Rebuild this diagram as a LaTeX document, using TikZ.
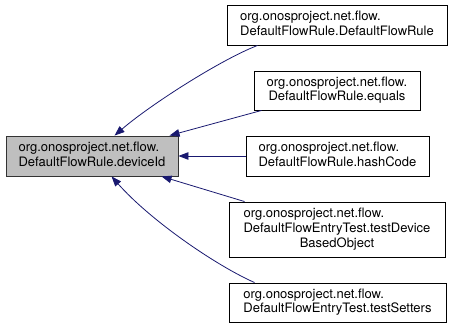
\documentclass[tikz,border=0pt]{standalone}
\usepackage{fontspec}
\setmainfont{TeX Gyre Heros}
\usetikzlibrary{arrows.meta}
\definecolor{edgeblue}{HTML}{191970}
\definecolor{focusgray}{HTML}{BFBFBF}
% two-or-more line label: leading lines flush left, last line centred
\newcommand{\fnlabel}[2]{\begin{tabular}{@{}c@{}}\multicolumn{1}{@{}l@{}}{#1}\\#2\end{tabular}}
\newcommand{\fnlabelthree}[3]{\begin{tabular}{@{}c@{}}\multicolumn{1}{@{}l@{}}{#1}\\\multicolumn{1}{@{}l@{}}{#2}\\#3\end{tabular}}
\begin{document}
\begin{tikzpicture}[x=1pt,y=-1pt,
  fn/.style={draw=black, line width=0.9pt, fill=white, rectangle, inner sep=0pt,
    font=\fontsize{13}{14.7}\selectfont, minimum height=40pt},
  focus/.style={fn, fill=focusgray, draw=black!80},
  caller/.style={draw=edgeblue, line width=0.8pt,
    arrows={Triangle[length=10pt,width=7.5pt]-}}
]
\useasboundingbox (0,0) rectangle (453,328);
\renewcommand{\arraystretch}{1}

\node[focus, minimum width=172pt] (L) at (92,156)
  {\fnlabel{org.onosproject.net.flow.}{DefaultFlowRule.deviceId}};

\node[fn, minimum width=220pt] (n1) at (337,25)
  {\fnlabel{org.onosproject.net.flow.}{DefaultFlowRule.DefaultFlowRule}};
\node[fn, minimum width=166pt, minimum height=39pt] (n2) at (337,90.5)
  {\fnlabel{org.onosproject.net.flow.}{DefaultFlowRule.equals}};
\node[fn, minimum width=183pt] (n3) at (337.5,156)
  {\fnlabel{org.onosproject.net.flow.}{DefaultFlowRule.hashCode}};
\node[fn, minimum width=216pt, minimum height=55pt] (n4) at (337,229.5)
  {\fnlabelthree{org.onosproject.net.flow.}{DefaultFlowEntryTest.testDevice}{BasedObject}};
\node[fn, minimum width=217pt, minimum height=39pt] (n5) at (337.5,302.5)
  {\fnlabel{org.onosproject.net.flow.}{DefaultFlowEntryTest.testSetters}};

% call edges, arrowheads at the called function
\draw[caller] ([xshift=109pt]L.north west) .. controls (150,105) and (220,60) .. ([xshift=31pt]n1.south west);
\draw[caller] ([xshift=164pt]L.north west) -- ([xshift=8pt]n2.south west);
\draw[caller] (L.east) -- (n3.west);
\draw[caller] ([xshift=156pt]L.south west) -- ([xshift=16pt]n4.north west);
\draw[caller] ([xshift=106pt]L.south west) .. controls (150,220) and (215,265) .. ([xshift=26pt]n5.north west);
\end{tikzpicture}
\end{document}
